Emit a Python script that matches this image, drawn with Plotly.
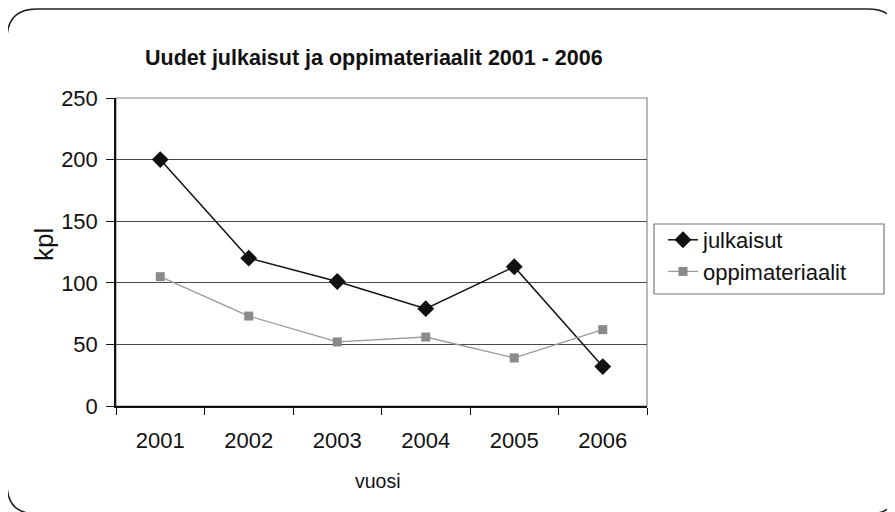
import plotly.graph_objects as go

# data
years = ['2001', '2002', '2003', '2004', '2005', '2006']
julkaisut = [200, 120, 101, 79, 113, 32]
oppimateriaalit = [105, 73, 52, 56, 39, 62]

# the page body has an 8px default margin, so lay out in window pixels minus that
OFF = 8
W, H = 895 - OFF, 512 - OFF
L, R, T, B = 116 - OFF, 248, 98 - OFF, 106
FONT = 'Liberation Sans, Arial'

# window pixel -> paper coords
def px(x):
    return (x - OFF - L) / (W - L - R)

def py(y):
    return (H - B - (y - OFF)) / (H - T - B)

fig = go.Figure()

fig.add_trace(go.Scatter(
    x=years, y=julkaisut, name='julkaisut', mode='lines+markers',
    line=dict(color='#111111', width=1.5),
    marker=dict(symbol='diamond', size=13, color='#111111')
))
fig.add_trace(go.Scatter(
    x=years, y=oppimateriaalit, name='oppimateriaalit', mode='lines+markers',
    line=dict(color='#9a9a9a', width=1.3),
    marker=dict(symbol='square', size=9, color='#8a8a8a')
))

# rounded outer frame
lf, tp, rt, bt, r = 7, 9, 898, 514, 30
path = (f'M {px(lf + r)} {py(tp)} L {px(rt - r)} {py(tp)} Q {px(rt)} {py(tp)} {px(rt)} {py(tp + r)} '
        f'L {px(rt)} {py(bt - r)} Q {px(rt)} {py(bt)} {px(rt - r)} {py(bt)} '
        f'L {px(lf + r)} {py(bt)} Q {px(lf)} {py(bt)} {px(lf)} {py(bt - r)} '
        f'L {px(lf)} {py(tp + r)} Q {px(lf)} {py(tp)} {px(lf + r)} {py(tp)} Z')

shapes = [
    dict(type='path', xref='paper', yref='paper', path=path, line=dict(color='#222222', width=1.5)),
    # grey plot area border (top / right)
    dict(type='rect', xref='paper', yref='paper', x0=0, x1=1, y0=0, y1=1,
         line=dict(color='#8c8c8c', width=1.2), layer='below'),
    # legend box
    dict(type='rect', xref='paper', yref='paper', x0=px(654), x1=px(884), y0=py(294), y1=py(224),
         line=dict(color='#777777', width=1.2)),
]

fig.update_layout(
    width=W, height=H,
    margin=dict(l=L, r=R, t=T, b=B),
    paper_bgcolor='white', plot_bgcolor='white',
    font=dict(family=FONT, color='#111111', size=22),
    showlegend=True,
    legend=dict(x=px(663), y=py(219), xanchor='left', yanchor='top',
                font=dict(family=FONT, size=22), bgcolor='rgba(0,0,0,0)',
                borderwidth=0, tracegroupgap=0),
    shapes=shapes,
    annotations=[
        dict(text='<b>Uudet julkaisut ja oppimateriaalit 2001 - 2006</b>', xref='paper', yref='paper',
             x=px(374), y=py(58), xanchor='center', yanchor='middle', showarrow=False,
             font=dict(family=FONT, size=21.5)),
        dict(text='kpl', xref='paper', yref='paper', x=px(44), y=py(245), textangle=-90,
             xanchor='center', yanchor='middle', showarrow=False, font=dict(family=FONT, size=26)),
        dict(text='vuosi', xref='paper', yref='paper', x=px(378), y=py(481),
             xanchor='center', yanchor='middle', showarrow=False, font=dict(family=FONT, size=19.5)),
    ],
    xaxis=dict(type='category', range=[-0.5, 5.5], showgrid=False, zeroline=False,
               showline=True, linecolor='#111111', linewidth=1.5,
               ticks='outside', tickson='boundaries', ticklen=7, tickcolor='#111111',
               ticklabelstandoff=14, automargin=False),
    yaxis=dict(range=[0, 250], dtick=50, showgrid=True, gridcolor='#4a4a4a', gridwidth=1.2,
               zeroline=False, showline=True, linecolor='#111111', linewidth=1.5,
               ticks='outside', ticklen=8, tickcolor='#111111', ticklabelstandoff=4,
               automargin=False),
)

fig.write_html('out.html')
